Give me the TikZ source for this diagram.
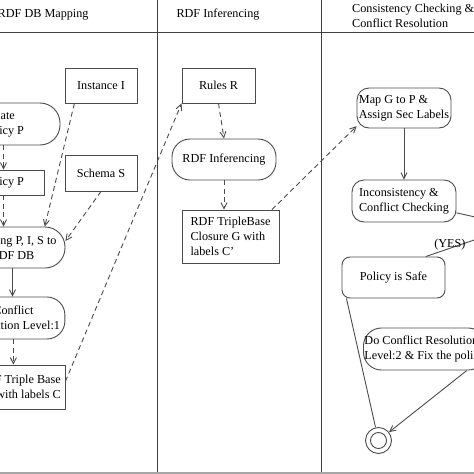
\documentclass[tikz,border=0pt]{standalone}
\usepackage{fontspec}
\setmainfont{Liberation Serif}
\usetikzlibrary{arrows.meta}

\begin{document}
\begin{tikzpicture}[x=1pt,y=-1pt,
    font=\fontsize{12.2}{15}\selectfont,
    lane/.style={draw=black!75, line width=0.9pt},
    act/.style={draw=black!70, line width=0.9pt, rounded corners=15pt, align=left, inner sep=1pt},
    obj/.style={draw=black!70, line width=0.9pt, align=left, inner sep=1pt},
    wire/.style={draw=black!70, line width=0.9pt},
    flow/.style={wire, -{Straight Barb[length=6pt,width=6pt]}},
    dep/.style={flow, dash pattern=on 5pt off 3.5pt},
    ]
    \useasboundingbox (0,0) rectangle (474,474);
    \clip (0,0) rectangle (474,474);
    \fill[white] (0,0) rectangle (474,474);

    % swimlanes
    \draw[lane] (0,32) -- (474,32);
    \draw[lane] (157,0) -- (157,474);
    \draw[lane] (321,0) -- (321,474);
    \draw[black!35, line width=2.5pt] (0,473) -- (474,473);

    \node[anchor=base west] (h1) at (-5.8,17.5) {RDF DB Mapping};
    \node[anchor=base west] (h2) at (173,17.5) {RDF Inferencing};
    \node[anchor=north west, align=left, inner sep=0pt] (h3) at (352,3.7) {Consistency Checking \&\\Conflict Resolution};

    % RDF DB mapping
    \node[act, rounded corners=20pt, minimum width=113, minimum height=42] (create) at (3.5,124) {Create\\Policy P};
    \node[obj, minimum width=81, minimum height=25] (pol) at (3.5,182.5) {Policy P};
    \node[obj, minimum width=72, minimum height=35] (inst) at (101,85.5) {Instance I};
    \node[obj, minimum width=72, minimum height=36] (schema) at (101,173) {Schema S};
    \node[act, align=center, rounded corners=20pt, minimum width=105, minimum height=41] (map) at (12.5,247.5) {Mapping P, I, S to\\RDF DB};
    \node[act, align=center, rounded corners=18pt, minimum width=103, minimum height=42] (conf) at (13.4,318) {Conflict\\Resolution Level:1};
    \node[obj, align=right, minimum width=91.4, minimum height=44] (trip) at (19.3,387) {RDF Triple Base\\with labels C};

    % RDF inferencing
    \node[obj, minimum width=73, minimum height=35] (rules) at (218.5,85.5) {Rules R};
    \node[act, rounded corners=18pt, minimum width=104, minimum height=41] (inf) at (224,159.5) {RDF Inferencing};
    \node[obj, minimum width=97, minimum height=53] (clos) at (230.5,236.5) {RDF TripleBase\\Closure G with\\labels C'};

    % consistency checking
    \node[act, rounded corners=12pt, minimum width=94, minimum height=40] (mapg) at (404,108) {Map G to P \&\\Assign Sec Labels};
    \node[act, rounded corners=12pt, minimum width=104, minimum height=42] (incons) at (404,201) {Inconsistency \&\\Conflict Checking};
    \node[act, rounded corners=8pt, minimum width=103, minimum height=41] (safe) at (393.5,277.5) {Policy is Safe};
    \node[act, rounded corners=18pt, anchor=west, minimum height=42] (fix) at (363,349) {Do Conflict Resolution\\Level:2 \& Fix the policy};
    \node[circle, wire, minimum size=26, inner sep=0pt] (fin) at (378.5,440.5) {};
    \draw[wire] (fin.center) circle (8);
    \coordinate (dec) at (515,226);

    \draw[dep] (create.south) -- (create.south |- pol.north);
    \draw[dep] (pol.south) -- (pol.south |- map.north);
    \draw[dep] (inst.214) -- (map.33);
    \draw[dep] (schema.south) -- (map.7);
    \draw[flow] (map.south) -- (map.south |- conf.north);
    \draw[dep] (conf.south) -- (conf.south |- trip.north);
    \draw[dep] (trip.7) -- (rules.south west);

    \draw[dep] (rules.south) -- (inf.north);
    \draw[dep] (inf.south) -- (inf.south |- clos.north);
    \draw[dep] (clos.33) -- (mapg.201);

    \draw[flow] (mapg.south) -- (incons.north);
    \draw[wire] (incons) -- (dec);
    \draw[wire] (dec) -- node[pos=0.73, anchor=south, inner sep=0pt, yshift=-2pt] (yes) {(YES)} (safe.33);
    \draw[wire] (safe.204) -- (fin);
    \draw[flow] (fix.-27) -- (fin);
\end{tikzpicture}
\end{document}
